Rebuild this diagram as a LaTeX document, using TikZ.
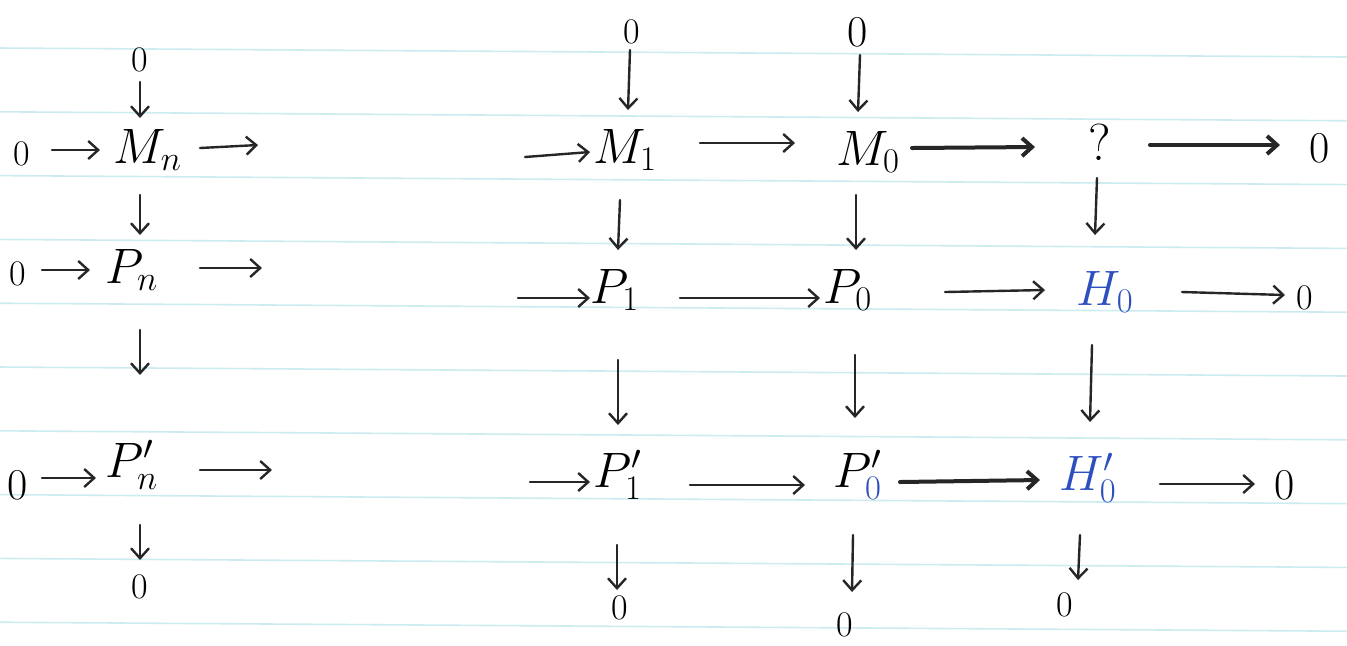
\documentclass[tikz,border=0pt]{standalone}
\usetikzlibrary{arrows.meta,calc}
\definecolor{ruling}{RGB}{205,236,240}
\definecolor{inkblue}{RGB}{45,80,190}
\begin{document}
\begin{tikzpicture}[x=0.5pt,y=-0.5pt,
  obj/.style={inner sep=0pt,font=\fontsize{26}{30}\selectfont},
  zero/.style={inner sep=0pt,font=\fontsize{18}{20}\selectfont},
  bigzero/.style={inner sep=0pt,font=\fontsize{22}{24}\selectfont},
  ar/.style={draw=black!85,line width=1.2pt,line cap=round,-{Straight Barb[length=5pt,width=9pt]}},
  arb/.style={ar,line width=2pt},
  rule/.style={draw=ruling,line width=0.8pt}]
\fill[white] (0,0) rectangle (1347,645);
\useasboundingbox (0,0) rectangle (1347,645);
\foreach \k in {0,...,9}{
  \draw[rule] (0,{48+63.8*\k}) -- (1347,{57+63.8*\k});
}
% nodes
\node[zero] (l1) at (22,154) {0};
\node[zero] (l2) at (18,274) {0};
\node[bigzero] (l3) at (18,485) {0};
\node[zero] (z1a) at (140,60) {0};
\node[obj] (mn) at (148,150) {$M_n$};
\node[obj] (pn) at (132,270) {$P_n$};
\node[obj] (pnp) at (132,465) {$P'_n$};
\node[zero] (z1b) at (140,587) {0};
\node[zero] (z2a) at (632,32) {0};
\node[obj] (m1) at (625,150) {$M_1$};
\node[obj] (p1) at (615,290) {$P_1$};
\node[obj] (p1p) at (618,475) {$P'_1$};
\node[zero] (z2b) at (620,608) {0};
\node[bigzero] (z3a) at (858,32) {0};
\node[obj] (m0) at (868,152) {$M_0$};
\node[obj] (p0) at (848,290) {$P_0$};
\node[obj] (p0p) at (858,475) {$P'_{\textcolor{inkblue}{0}}$};
\node[zero] (z3b) at (845,625) {0};
\node[obj] (q) at (1100,142) {?};
\node[obj,text=inkblue] (h0) at (1105,292) {$H_0$};
\node[obj,text=inkblue] (h0p) at (1088,478) {$H'_0$};
\node[zero] (z4b) at (1065,605) {0};
\node[bigzero] (zr1) at (1320,148) {0};
\node[zero] (zr2) at (1305,298) {0};
\node[bigzero] (zr3) at (1285,485) {0};
\coordinate (mnout) at (258,145);
\coordinate (pnout) at (262,268);
\coordinate (pnpout) at (272,470);
\coordinate (m1in) at (525,157);
\coordinate (p1in) at (518,298);
\coordinate (p1pin) at (530,482);
% row M
\draw[ar] ($(l1)+(30,-4)$) -- ($(mn)+(-48,0)$);
\draw[ar] ($(mn)+(52,-2)$) -- (mnout);
\draw[ar] (m1in) -- ($(m1)+(-35,2)$);
\draw[ar] ($(m1)+(75,-7)$) -- ($(m0)+(-73,-9)$);
\draw[arb] ($(m0)+(44,-4)$) -- ($(q)+(-65,5)$);
\draw[arb] ($(q)+(50,3)$) -- ($(zr1)+(-40,-3)$);
% row P
\draw[ar] ($(l2)+(24,-4)$) -- ($(pn)+(-42,0)$);
\draw[ar] ($(pn)+(68,-2)$) -- (pnout);
\draw[ar] (p1in) -- ($(p1)+(-25,8)$);
\draw[ar] ($(p1)+(65,8)$) -- ($(p0)+(-28,8)$);
\draw[ar] ($(p0)+(97,2)$) -- ($(h0)+(-60,-2)$);
\draw[ar] ($(h0)+(77,0)$) -- ($(zr2)+(-20,-3)$);
% row P'
\draw[ar] ($(l3)+(24,-7)$) -- ($(pnp)+(-36,13)$);
\draw[ar] ($(pnp)+(68,5)$) -- (pnpout);
\draw[ar] (p1pin) -- ($(p1p)+(-28,7)$);
\draw[ar] ($(p1p)+(72,10)$) -- ($(p0p)+(-53,10)$);
\draw[arb] ($(p0p)+(42,7)$) -- ($(h0p)+(-48,2)$);
\draw[ar] ($(h0p)+(72,6)$) -- ($(zr3)+(-30,-1)$);
% column n
\draw[ar] ($(z1a)+(0,22)$) -- ($(mn)+(-8,-32)$);
\draw[ar] ($(mn)+(-8,45)$) -- ($(pn)+(8,-35)$);
\draw[ar] ($(pn)+(8,60)$) -- ($(pnp)+(8,-90)$);
\draw[ar] ($(pnp)+(8,60)$) -- ($(z1b)+(0,-27)$);
% column 1
\draw[ar] ($(z2a)+(-2,18)$) -- ($(m1)+(3,-40)$);
\draw[ar] ($(m1)+(-5,50)$) -- ($(p1)+(3,-40)$);
\draw[ar] ($(p1)+(3,70)$) -- ($(p1p)+(0,-50)$);
\draw[ar] ($(p1p)+(-1,70)$) -- ($(z2b)+(-3,-18)$);
% column 0
\draw[ar] ($(z3a)+(2,23)$) -- ($(m0)+(-10,-40)$);
\draw[ar] ($(m0)+(-12,43)$) -- ($(p0)+(8,-40)$);
\draw[ar] ($(p0)+(7,65)$) -- ($(p0p)+(-3,-57)$);
\draw[ar] ($(p0p)+(-5,60)$) -- ($(z3b)+(7,-33)$);
% column H
\draw[ar] ($(q)+(-3,36)$) -- ($(h0)+(-10,-57)$);
\draw[ar] ($(h0)+(-13,53)$) -- ($(h0p)+(2,-56)$);
\draw[ar] ($(h0p)+(-8,57)$) -- ($(z4b)+(13,-25)$);
\end{tikzpicture}
\end{document}
